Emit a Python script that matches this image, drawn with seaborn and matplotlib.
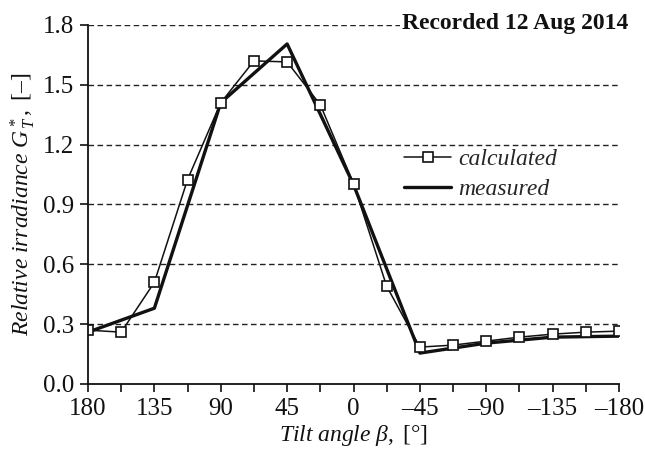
import matplotlib
matplotlib.use("Agg")
import matplotlib.pyplot as plt
import seaborn as sns
import pandas as pd

# ---- data ----
angles_calc = [180, 157.5, 135, 112.5, 90, 67.5, 45, 22.5, 0, -22.5, -45,
               -67.5, -90, -112.5, -135, -157.5, -180]
calculated = [0.27, 0.26, 0.51, 1.025, 1.41, 1.62, 1.615, 1.40, 1.005, 0.49,
              0.185, 0.195, 0.215, 0.235, 0.25, 0.26, 0.265]
angles_meas = [180, 135, 90, 45, 0, -45, -90, -135, -180]
measured = [0.26, 0.38, 1.41, 1.705, 1.0, 0.155, 0.205, 0.235, 0.24]

x_ticks = [180, 157.5, 135, 112.5, 90, 67.5, 45, 22.5, 0, -22.5, -45,
           -67.5, -90, -112.5, -135, -157.5, -180]
x_tick_labels = ["180", "", "135", "", "90", "", "45", "", "0", "", "\u201345", "",
                 "\u201390", "", "\u2013135", "", "\u2013180"]
y_ticks = [0.0, 0.3, 0.6, 0.9, 1.2, 1.5, 1.8]
y_tick_labels = ["0.0", "0.3", "0.6", "0.9", "1.2", "1.5", "1.8"]

sns.set_style("ticks")
plt.rcParams["font.family"] = ["Liberation Serif", "DejaVu Serif"]
plt.rcParams["mathtext.fontset"] = "custom"
plt.rcParams["mathtext.rm"] = "Liberation Serif"
plt.rcParams["mathtext.it"] = "Liberation Serif:italic"
plt.rcParams["mathtext.bf"] = "Liberation Serif:bold"

fig = plt.figure(figsize=(6.45, 4.51), dpi=100)
ax = fig.add_axes([88 / 645, 1 - 384 / 451, (619 - 88) / 645, (384 - 25) / 451])

df_calc = pd.DataFrame({"angle": angles_calc, "value": calculated})
df_meas = pd.DataFrame({"angle": angles_meas, "value": measured})

sns.lineplot(data=df_meas, x="angle", y="value", ax=ax, color="#111111",
             linewidth=2.4, sort=False, estimator=None, label="measured", zorder=3)
sns.lineplot(data=df_calc, x="angle", y="value", ax=ax, color="#111111",
             linewidth=1.1, marker="s", markersize=7.5, markerfacecolor="white",
             markeredgecolor="#111111", markeredgewidth=1.2, sort=False,
             estimator=None, label="calculated", zorder=4)

ax.set_xlim(180, -180)
ax.set_ylim(0, 1.8)
ax.set_xticks(x_ticks)
ax.set_xticklabels(x_tick_labels)
ax.set_yticks(y_ticks)
ax.set_yticklabels(y_tick_labels)
ax.tick_params(axis="both", labelsize=18, length=6, width=1.2, color="#111111",
               labelcolor="#111111", pad=4)
for side in ["top", "right"]:
    ax.spines[side].set_visible(False)
for side in ["left", "bottom"]:
    ax.spines[side].set_linewidth(1.3)
    ax.spines[side].set_color("#111111")
    ax.spines[side].set_zorder(5)

for yv in y_ticks[1:]:
    ax.axhline(yv, color="#222222", linewidth=1.0, linestyle=(0, (4, 2.5)), zorder=1)

ax.set_xlabel(r"$\mathit{Tilt\ angle\ \beta,}$ [°]", fontsize=17, color="#111111",
              labelpad=2)
ax.set_ylabel(r"$\mathit{Relative\ irradiance\ G^*_{\,T},}$ [–]", fontsize=17,
              color="#111111", labelpad=4)

ax.text(1.017, 1.005, "Recorded 12 Aug 2014", transform=ax.transAxes, ha="right",
        va="center", fontsize=17, fontweight="bold", color="#111111",
        bbox=dict(facecolor="white", edgecolor="none", pad=1), zorder=6,
        clip_on=False)

handles, labels = ax.get_legend_handles_labels()
order = [labels.index("calculated"), labels.index("measured")]
leg = ax.legend([handles[i] for i in order], [labels[i] for i in order],
                loc="upper left", bbox_to_anchor=(0.555, 0.715), frameon=False,
                prop={"family": "Liberation Serif", "style": "italic", "size": 17},
                handlelength=2.0, handletextpad=0.3, labelspacing=0.35)

fig.savefig("out.png", dpi=100)
